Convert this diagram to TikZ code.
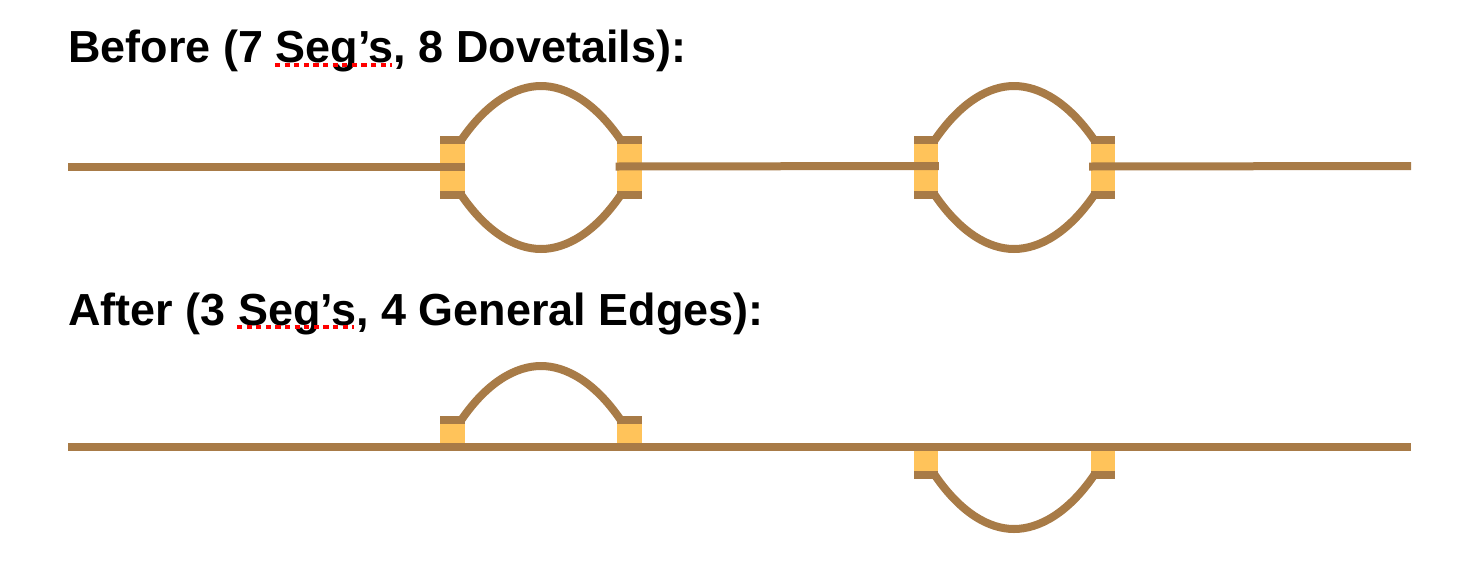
\documentclass[tikz,border=0pt]{standalone}
\usepackage{fontspec}
\setmainfont{Liberation Sans}
\usepackage{xcolor}
\usepackage{tikz}
\usetikzlibrary{calc, positioning}
\definecolor{edgebrown}{HTML}{A87B47}
\definecolor{doveorange}{HTML}{FFC35A}
\tikzset{
	headline/.style={anchor=base west, inner sep=0pt, font=\fontsize{22.47}{26}\selectfont\bfseries},
	tallbox/.style={fill=doveorange, inner sep=0pt, minimum width=12.4pt, minimum height=31.5pt},
	lowbox/.style={fill=doveorange, inner sep=0pt, minimum width=12.4pt, minimum height=16pt},
	dovebar/.style={fill=edgebrown, inner sep=0pt, minimum width=12.4pt, minimum height=4pt},
	edgeline/.style={draw=edgebrown, line width=4pt},
	spellmark/.style={draw=red, line width=2pt, dash pattern=on 2.6pt off 2.2pt}
}
\begin{document}
\begin{tikzpicture}[x=0.5pt, y=-0.5pt]
		\useasboundingbox (0,0) rectangle (1464,574);

		% titles %
		\node[headline] (before) at (68,62) {Before (7 Seg’s, 8 Dovetails):};
		\node[headline] (after) at (68,325) {After (3 Seg’s, 4 General Edges):};
		\coordinate (markA) at (275,65);
		\coordinate (markB) at (392,65);
		\coordinate (markC) at (237,327);
		\coordinate (markD) at (354,327);
		\draw[spellmark] (markA) -- (markB);
		\draw[spellmark] (markC) -- (markD);

		% nodes - for top row %
		\node[tallbox] (boxA) at (452.5,167.5) {};
		\node[tallbox] (boxB) at (629.5,167.5) {};
		\node[tallbox] (boxC) at (926,167.5) {};
		\node[tallbox] (boxD) at (1103,167.5) {};
		\node[dovebar, anchor=north] (barAt) at (boxA.north) {};
		\node[dovebar, anchor=south] (barAb) at (boxA.south) {};
		\node[dovebar, anchor=north] (barBt) at (boxB.north) {};
		\node[dovebar, anchor=south] (barBb) at (boxB.south) {};
		\node[dovebar, anchor=north] (barCt) at (boxC.north) {};
		\node[dovebar, anchor=south] (barCb) at (boxC.south) {};
		\node[dovebar, anchor=north] (barDt) at (boxD.north) {};
		\node[dovebar, anchor=south] (barDb) at (boxD.south) {};
		\coordinate (startT) at (68,167);
		\coordinate (stopT) at (1411,166);
		\coordinate (peakA) at (541,86);
		\coordinate (peakB) at (541,249);
		\coordinate (peakC) at (1014,86);
		\coordinate (peakD) at (1014,249);

		% edges %
		\draw[edgeline] (startT) -- (boxA.east |- startT);
		\draw[edgeline] ([xshift=-0.5pt, yshift=0.5pt]boxB.west) -- ([yshift=0.75pt]boxC.east);
		\draw[edgeline] ([xshift=-0.5pt, yshift=0.5pt]boxD.west) -- (stopT);
		\draw[edgeline] ([xshift=-2pt]barAt.east) .. controls +(26,-38) and +(-25,0) .. (peakA) .. controls +(25,0) and +(-26,-38) .. ([xshift=2pt]barBt.west);
		\draw[edgeline] ([xshift=-2pt]barAb.east) .. controls +(26,38) and +(-25,0) .. (peakB) .. controls +(25,0) and +(-26,38) .. ([xshift=2pt]barBb.west);
		\draw[edgeline] ([xshift=-2pt]barCt.east) .. controls +(26,-38) and +(-25,0) .. (peakC) .. controls +(25,0) and +(-26,-38) .. ([xshift=2pt]barDt.west);
		\draw[edgeline] ([xshift=-2pt]barCb.east) .. controls +(26,38) and +(-25,0) .. (peakD) .. controls +(25,0) and +(-26,38) .. ([xshift=2pt]barDb.west);

		% nodes - for bottom row %
		\node[lowbox] (boxE) at (452.5,432) {};
		\node[lowbox] (boxF) at (629.5,432) {};
		\node[lowbox] (boxG) at (926,463) {};
		\node[lowbox] (boxH) at (1103,463) {};
		\node[dovebar, anchor=north] (barEt) at (boxE.north) {};
		\node[dovebar, anchor=north] (barFt) at (boxF.north) {};
		\node[dovebar, anchor=south] (barGb) at (boxG.south) {};
		\node[dovebar, anchor=south] (barHb) at (boxH.south) {};
		\coordinate (startL) at (68,447);
		\coordinate (stopL) at (1411,447);
		\coordinate (peakE) at (541,366);
		\coordinate (peakG) at (1014,529);

		% edges %
		\draw[edgeline] (startL) -- (stopL);
		\draw[edgeline] ([xshift=-2pt]barEt.east) .. controls +(26,-38) and +(-25,0) .. (peakE) .. controls +(25,0) and +(-26,-38) .. ([xshift=2pt]barFt.west);
		\draw[edgeline] ([xshift=-2pt]barGb.east) .. controls +(26,38) and +(-25,0) .. (peakG) .. controls +(25,0) and +(-26,38) .. ([xshift=2pt]barHb.west);
\end{tikzpicture}
\end{document}
